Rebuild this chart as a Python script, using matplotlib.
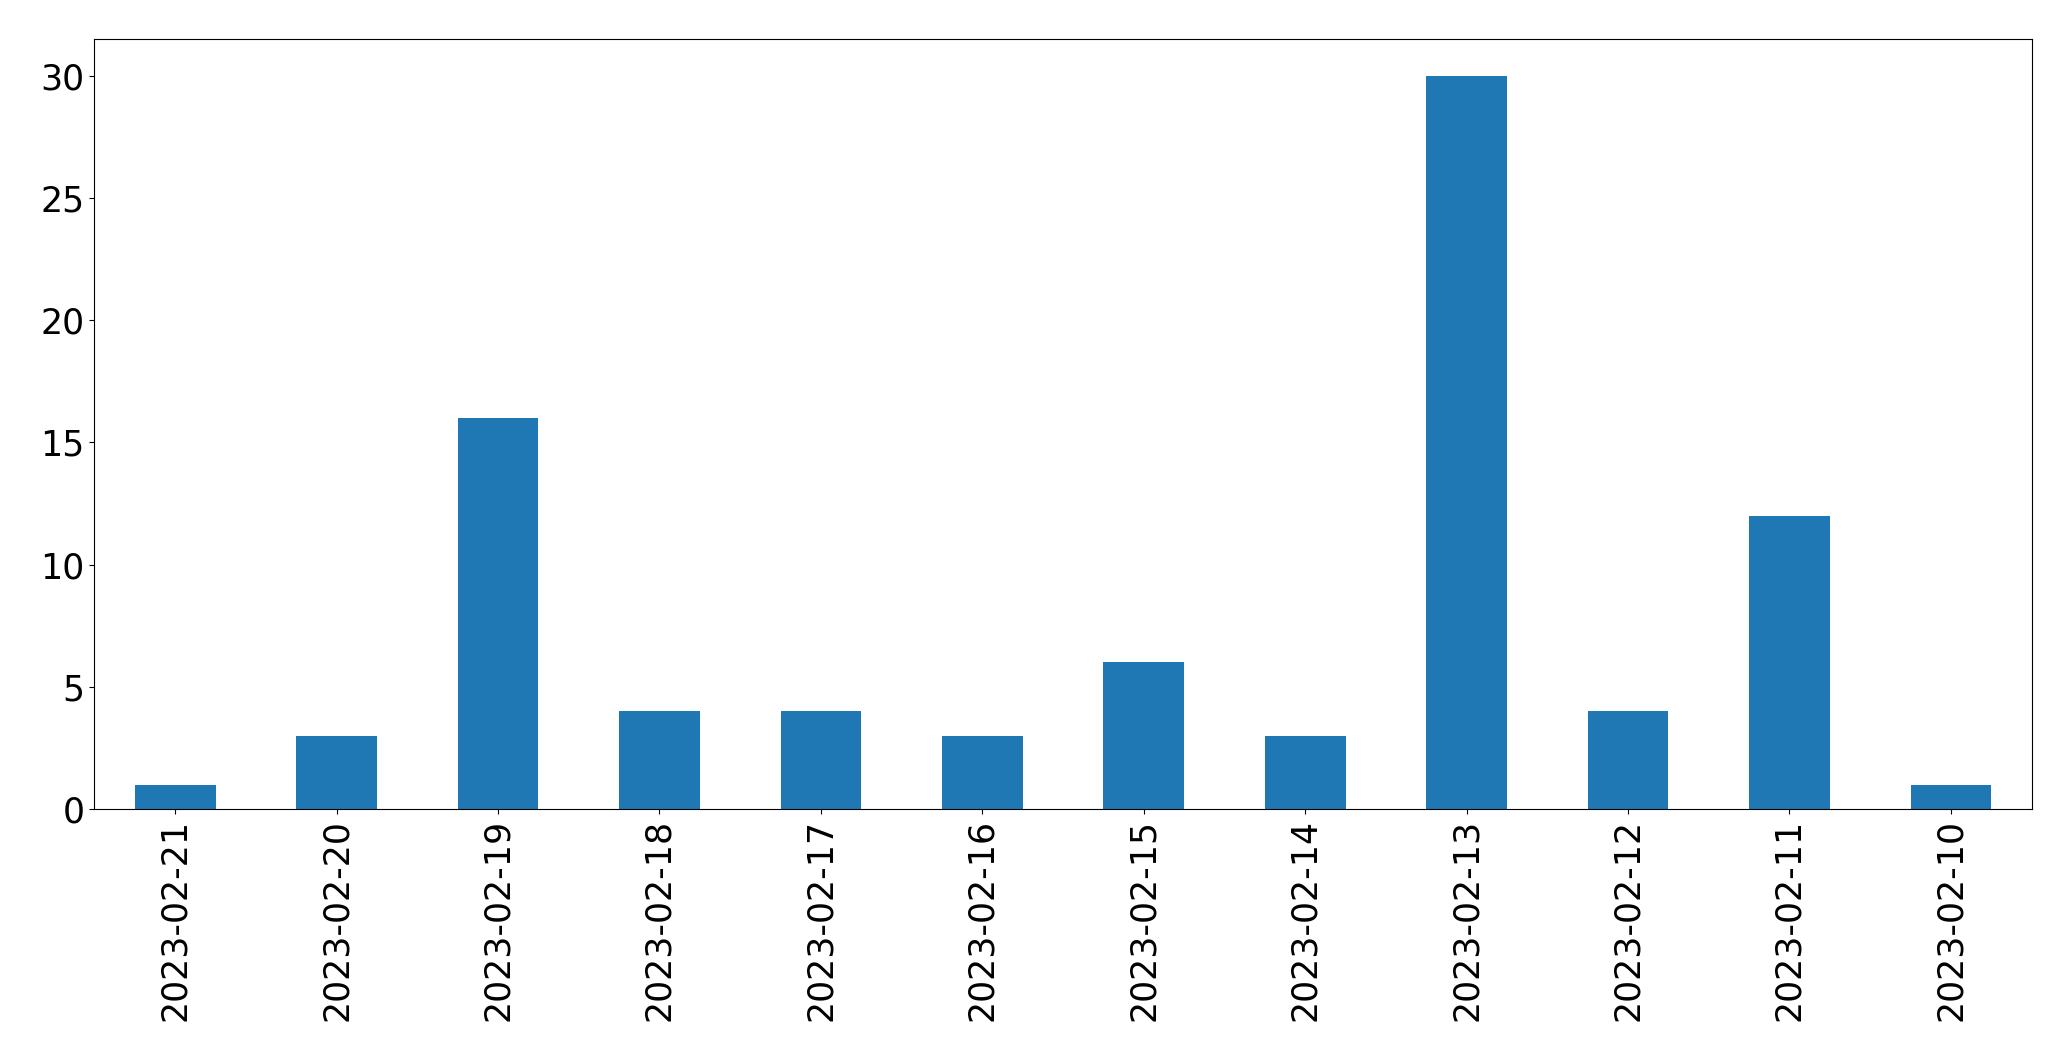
import pandas as pd
import matplotlib
matplotlib.use('Agg')
import matplotlib.pyplot as plt

# Datos
fechas = ['2023-02-21', '2023-02-20', '2023-02-19', '2023-02-18', '2023-02-17', '2023-02-16',
          '2023-02-15', '2023-02-14', '2023-02-13', '2023-02-12', '2023-02-11', '2023-02-10']
conteos = [1, 3, 16, 4, 4, 3, 6, 3, 30, 4, 12, 1]

serie = pd.Series(conteos, index=fechas)

fig = plt.figure(figsize=(20.71, 10.61), dpi=100)
ax = fig.add_axes([0.0456, 0.2375, 0.9354, 0.7257])
serie.plot(kind='bar', ax=ax, color='#1f77b4', fontsize=25)
ax.set_ylim(0, 31.5)

fig.savefig('out.png', dpi=100)
